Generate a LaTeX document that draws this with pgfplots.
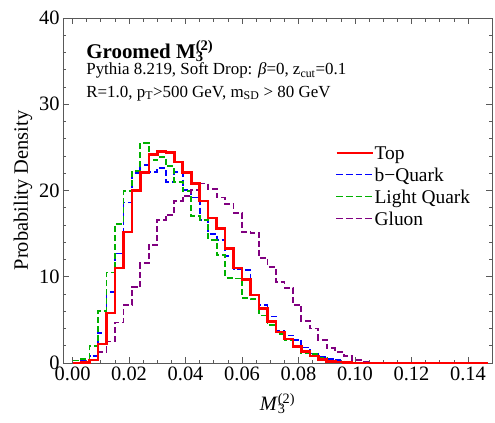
\documentclass[border=0pt]{standalone}
\usepackage{fontspec}
\setmainfont{Liberation Serif}
\usepackage{pgfplots}
\pgfplotsset{compat=1.18}

\definecolor{topred}{rgb}{1,0,0}
\definecolor{bblue}{rgb}{0,0,1}
\definecolor{lgreen}{rgb}{0,0.69,0}
\definecolor{gpurple}{rgb}{0.5,0,0.5}

% legend samples made of rules (coloured as text)
\newcommand{\solidsample}[1]{\textcolor{#1}{\rule{36bp}{1.5pt}}}
\newcommand{\dashsample}[1]{\textcolor{#1}{\rule{6.75bp}{1.5pt}\hspace{3bp}\rule{6.75bp}{1.5pt}\hspace{3bp}\rule{6.75bp}{1.5pt}\hspace{3bp}\rule{6.75bp}{1.5pt}}}

% histogram bins of width 0.003, left edges
\pgfplotstableread{
x y
0.000 0
0.003 0.05
0.006 0.35
0.009 2.2
0.012 5.8
0.015 11.0
0.018 15.2
0.021 20.0
0.024 22.1
0.027 24.2
0.030 24.5
0.033 24.4
0.036 23.3
0.039 22.1
0.042 20.8
0.045 18.8
0.048 16.8
0.051 15.6
0.054 13.3
0.057 11.0
0.060 9.7
0.063 7.9
0.066 6.3
0.069 4.8
0.072 3.6
0.075 2.8
0.078 1.9
0.081 1.3
0.084 0.8
0.087 0.4
0.090 0.2
0.093 0.1
0.096 0.05
0.099 0
0.147 0
}\toptable

\pgfplotstableread{
x y
0.000 0
0.003 0.2
0.006 0.8
0.009 3.5
0.012 8.2
0.015 12.7
0.018 18.6
0.021 22.0
0.024 23.0
0.027 22.1
0.030 22.6
0.033 21.0
0.036 22.1
0.039 20.1
0.042 19.2
0.045 16.6
0.048 15.0
0.051 14.3
0.054 12.4
0.057 10.9
0.060 10.8
0.063 7.9
0.066 6.7
0.069 5.4
0.072 3.7
0.075 3.2
0.078 2.7
0.081 1.8
0.084 1.1
0.087 0.7
0.090 0.5
0.093 0.35
0.096 0.15
0.099 0.05
0.102 0
0.147 0
}\bqtable

\pgfplotstableread{
x y
0.000 0.3
0.003 0.5
0.006 2.0
0.009 6.0
0.012 10.5
0.015 16.1
0.018 19.9
0.021 22.3
0.024 25.5
0.027 23.5
0.030 23.9
0.033 22.8
0.036 21.0
0.039 19.9
0.042 17.0
0.045 16.6
0.048 14.3
0.051 12.5
0.054 9.9
0.057 9.8
0.060 7.5
0.063 7.4
0.066 5.5
0.069 4.4
0.072 3.4
0.075 2.6
0.078 1.8
0.081 1.2
0.084 1.0
0.087 0.6
0.090 0.3
0.093 0.15
0.096 0.05
0.099 0
0.147 0
}\lqtable

\pgfplotstableread{
x y
0.000 0
0.003 0.05
0.006 0.4
0.009 1.3
0.012 2.5
0.015 4.7
0.018 6.7
0.021 8.8
0.024 11.6
0.027 13.7
0.030 16.6
0.033 17.2
0.036 18.8
0.039 19.4
0.042 20.1
0.045 20.8
0.048 20.2
0.051 19.2
0.054 18.4
0.057 17.4
0.060 15.2
0.063 15.1
0.066 12.2
0.069 11.1
0.072 9.4
0.075 8.7
0.078 6.7
0.081 4.9
0.084 4.0
0.087 2.7
0.090 1.7
0.093 1.3
0.096 0.8
0.099 0.35
0.102 0.15
0.105 0.05
0.108 0
0.147 0
}\gltable

\pgfplotsset{
  topstyle/.style={color=topred, line width=2.6pt, const plot},
  dashstyle/.style={line width=1.8pt, dash pattern=on 6bp off 3bp, const plot},
}

\begin{document}
\begin{tikzpicture}
\begin{axis}[
  scale only axis,
  width=429bp, height=345bp,
  xmin=-0.0034, xmax=0.1485,
  ymin=0, ymax=40,
  axis line style={black!65, line width=0.8pt},
  tick style={black!65, line width=0.7pt},
  tick align=inside,
  major tick length=6bp,
  minor tick length=3.5bp,
  xtick={0,0.02,...,0.14},
  minor x tick num=3,
  ytick={0,10,20,30,40},
  minor y tick num=4,
  /pgf/number format/assume math mode=true,
  xticklabel style={/pgf/number format/fixed, /pgf/number format/fixed zerofill, /pgf/number format/precision=2},
  tick label style={font=\fontsize{20.5}{24}\selectfont},
  ylabel={Probability Density},
  xlabel={\textit{M}\rlap{\textsubscript{3}}\textsuperscript{(2)}},
  label style={font=\fontsize{20.5}{24}\selectfont},
  xlabel style={yshift=-6bp},
  legend cell align=left,
  legend style={draw=none, fill=none, at={(rel axis cs:0.634,0.637)}, anchor=north west,
    font=\fontsize{19.5}{21}\selectfont, row sep=3bp, inner sep=1bp},
  clip=true,
]
\addplot[topstyle,
  legend image code/.code={\node[inner sep=0pt, anchor=west] at (0bp,0bp) {\solidsample{topred}};}]
  table {\toptable};
\addlegendentry{Top}
\addplot[color=bblue, dashstyle,
  legend image code/.code={\node[inner sep=0pt, anchor=west] at (0bp,0bp) {\dashsample{bblue}};}]
  table {\bqtable};
\addlegendentry{b\textminus Quark}
\addplot[color=lgreen, dashstyle,
  legend image code/.code={\node[inner sep=0pt, anchor=west] at (0bp,0bp) {\dashsample{lgreen}};}]
  table {\lqtable};
\addlegendentry{Light Quark}
\addplot[color=gpurple, dashstyle,
  legend image code/.code={\node[inner sep=0pt, anchor=west] at (0bp,0bp) {\dashsample{gpurple}};}]
  table {\gltable};
\addlegendentry{Gluon}
% Top drawn once more so that it lies above the dashed curves
\addplot[topstyle, forget plot] table {\toptable};

\node[anchor=base west, inner sep=0pt, font=\fontsize{21}{24}\selectfont\bfseries] at (rel axis cs:0.054,0.884)
  {Groomed M\rlap{\textsubscript{3}}\textsuperscript{(2)}};
\node[anchor=base west, inner sep=0pt, font=\fontsize{17}{20}\selectfont] at (rel axis cs:0.054,0.835)
  {Pythia 8.219, Soft Drop: \textit{β}=0, z\textsubscript{cut}=0.1};
\node[anchor=base west, inner sep=0pt, font=\fontsize{17}{20}\selectfont] at (rel axis cs:0.054,0.771)
  {R=1.0, p\textsubscript{T}>500 GeV, m\textsubscript{SD} > 80 GeV};
\end{axis}
\pgfresetboundingbox
\path (current axis.south west) ++(-63bp,-60bp) rectangle ([shift={(3bp,18bp)}]current axis.north east);
\end{tikzpicture}
\end{document}
